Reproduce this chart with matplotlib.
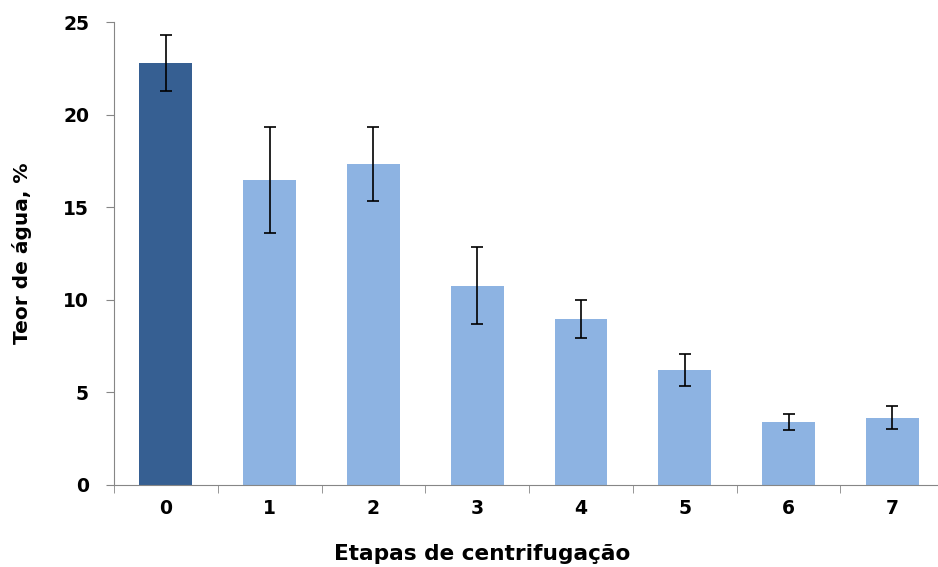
import numpy as np
import matplotlib.pyplot as plt
from matplotlib.ticker import FixedLocator

# data
etapas = ["0", "1", "2", "3", "4", "5", "6", "7"]
teor = [22.8, 16.47, 17.33, 10.77, 8.95, 6.22, 3.40, 3.64]
erro = [1.52, 2.85, 2.0, 2.1, 1.03, 0.87, 0.42, 0.64]

dark_blue = "#365F92"
light_blue = "#8DB3E2"
axis_grey = "#868686"

plt.rcParams['font.family'] = ['DejaVu Sans']

fig = plt.figure(figsize=(9.38, 5.67), dpi=100)
ax = fig.add_axes([114 / 938, 1 - 485 / 567, 1 - 114 / 938, (485 - 22) / 567])

x = np.arange(len(etapas))
cores = [dark_blue] + [light_blue] * (len(etapas) - 1)
ax.bar(x, teor, width=0.51, color=cores, zorder=2)
ax.errorbar(x, teor, yerr=erro, fmt="none", ecolor="black", elinewidth=1.2,
            capsize=4.5, capthick=1.2, zorder=3)

ax.set_xlim(-0.5, 7.44)
ax.set_ylim(0, 25)
ax.set_yticks([0, 5, 10, 15, 20, 25])

# labels at bar centres, tick marks at category boundaries
ax.set_xticks(x)
ax.set_xticklabels(etapas)
ax.xaxis.set_minor_locator(FixedLocator(np.arange(-0.5, len(etapas), 1.0)))
ax.tick_params(axis="x", which="major", length=0, pad=10)
ax.tick_params(axis="x", which="minor", length=6, direction="out", color=axis_grey)
ax.tick_params(axis="y", length=6, direction="out", color=axis_grey, pad=12)

for lbl in ax.get_xticklabels() + ax.get_yticklabels():
    lbl.set_fontsize(13.5)
    lbl.set_fontweight("bold")

ax.spines["top"].set_visible(False)
ax.spines["right"].set_visible(False)
ax.spines["left"].set_color(axis_grey)
ax.spines["bottom"].set_color(axis_grey)

ax.set_xlabel("Etapas de centrifugação", fontsize=15.6, fontweight="bold")
ax.xaxis.set_label_coords(0.447, -0.149)
ax.xaxis.label.set_verticalalignment("center")
ax.set_ylabel("Teor de água, %", fontsize=14.5, fontweight="bold", labelpad=22)

plt.savefig("out.png", dpi=100)
